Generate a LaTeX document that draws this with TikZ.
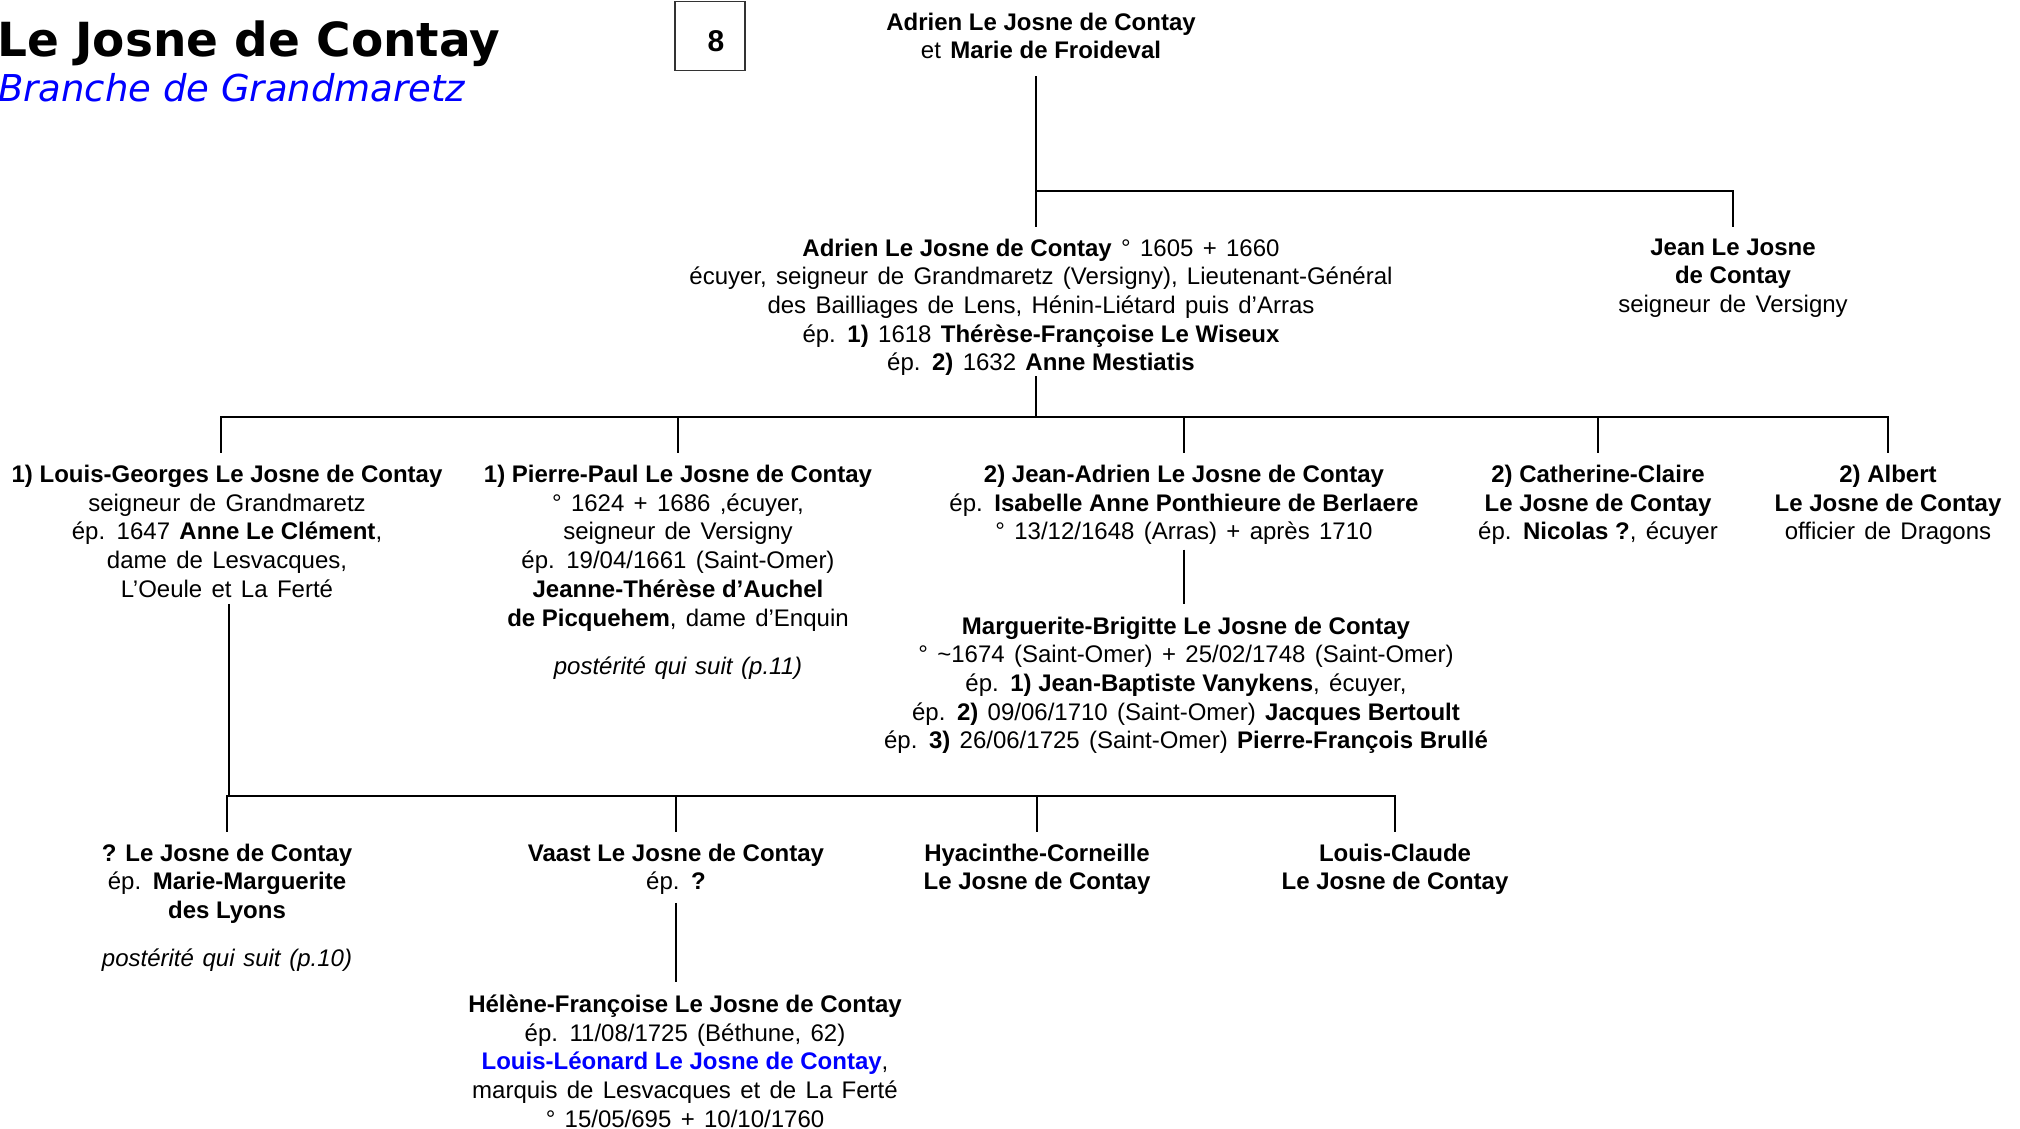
\documentclass[tikz,border=0pt]{standalone}
\usepackage{fontspec}
\setmainfont{Liberation Sans}[WordSpace=1.4, BoldFeatures={WordSpace=1}, ItalicFeatures={WordSpace=1.3}]
\newfontfamily\djv{DejaVu Sans}
\begin{document}
\begin{tikzpicture}[x=1pt,y=-1pt,
  person/.style={align=center, inner sep=0pt, anchor=north, font=\fontsize{24}{28.7}\selectfont},
  link/.style={line width=2.5pt, black},
]
\useasboundingbox (0,0) rectangle (2020,1129);

% title
\node[anchor=base west, inner sep=0pt, font=\djv\bfseries\fontsize{47}{50}\selectfont] (title) at (-3,57) {Le Josne de Contay};
\node[anchor=base west, inner sep=0pt, text=blue, font=\djv\itshape\fontsize{37}{40}\selectfont] (sub) at (-2,101.5) {Branche de Grandmaretz};
\node[draw=black!80, line width=1.3pt, minimum width=70pt, minimum height=69pt, inner sep=0pt] (pg) at (710,36) {};
\node[inner sep=0pt, font=\bfseries\fontsize{30}{32}\selectfont] (pgnum) at (716,40.7) {8};

% generation 0
\node[person] (top) at (1041,12.5) {\textbf{Adrien Le Josne de Contay}\\et \textbf{Marie de Froideval}};

% generation 1
\node[person] (adr) at (1041,238.5) {\textbf{Adrien Le Josne de Contay} ° 1605 + 1660\\
écuyer, seigneur de Grandmaretz (Versigny), Lieutenant-Général\\
des Bailliages de Lens, Hénin-Liétard puis d’Arras\\
ép. \textbf{1)} 1618 \textbf{Thérèse-Françoise Le Wiseux}\\
ép. \textbf{2)} 1632 \textbf{Anne Mestiatis}};
\node[person] (jean) at (1733,238.5) {\textbf{Jean Le Josne}\\\textbf{de Contay}\\seigneur de Versigny};

% generation 2
\node[person] (lg) at (227,465) {\textbf{1) Louis-Georges Le Josne de Contay}\\seigneur de Grandmaretz\\ép. 1647 \textbf{Anne Le Clément},\\dame de Lesvacques,\\L’Oeule et La Ferté};
\node[person] (pp) at (678,465) {\textbf{1) Pierre-Paul Le Josne de Contay}\\° 1624 + 1686 ,écuyer,\\seigneur de Versigny\\ép. 19/04/1661 (Saint-Omer)\\\textbf{Jeanne-Thérèse d’Auchel}\\\textbf{de Picquehem}, dame d’Enquin\\[20pt]\textit{postérité qui suit (p.11)}};
\node[person] (ja) at (1184,465) {\textbf{2) Jean-Adrien Le Josne de Contay}\\ép. \textbf{Isabelle Anne Ponthieure de Berlaere}\\° 13/12/1648 (Arras) + après 1710};
\node[person] (cc) at (1598,465) {\textbf{2) Catherine-Claire}\\\textbf{Le Josne de Contay}\\ép. \textbf{Nicolas ?}, écuyer};
\node[person] (alb) at (1888,465) {\textbf{2) Albert}\\\textbf{Le Josne de Contay}\\officier de Dragons};

\node[person] (mb) at (1186,616.5) {\textbf{Marguerite-Brigitte Le Josne de Contay}\\
° \textasciitilde1674 (Saint-Omer) + 25/02/1748 (Saint-Omer)\\
ép. \textbf{1) Jean-Baptiste Vanykens}, écuyer,\\
ép. \textbf{2)} 09/06/1710 (Saint-Omer) \textbf{Jacques Bertoult}\\
ép. \textbf{3)} 26/06/1725 (Saint-Omer) \textbf{Pierre-François Brullé}};

% generation 3
\node[person] (q) at (227,843.5) {\textbf{? Le Josne de Contay}\\ép. \textbf{Marie-Marguerite}\\\textbf{des Lyons}\\[19pt]\textit{postérité qui suit (p.10)}};
\node[person] (v) at (676,843.5) {\textbf{Vaast Le Josne de Contay}\\ép. \textbf{?}};
\node[person] (hc) at (1037,843.5) {\textbf{Hyacinthe-Corneille}\\\textbf{Le Josne de Contay}};
\node[person] (lc) at (1395,843.5) {\textbf{Louis-Claude}\\\textbf{Le Josne de Contay}};

\node[person] (hf) at (685,994.5) {\textbf{Hélène-Françoise Le Josne de Contay}\\
ép. 11/08/1725 (Béthune, 62)\\
\textcolor{blue}{\textbf{Louis-Léonard Le Josne de Contay}},\\
marquis de Lesvacques et de La Ferté\\
° 15/05/695 + 10/10/1760};

% connectors
\coordinate (b0) at (1036,191);
\coordinate (b1) at (1036,417);
\coordinate (b2) at (229,796);

\draw[link, shorten <=17pt] (top.south -| b0) -- (b0);
\draw[link, shorten >=11.5pt] (b0) -- (adr.north -| b0);
\draw[link, shorten >=11.5pt] (b0) -| (jean.north);

\draw[link] (adr.south -| b1) -- (b1);
\draw[link, shorten >=12pt] (b1) -| ([xshift=-6pt]lg.north);
\draw[link, shorten >=12pt] (b1) -| (pp.north);
\draw[link, shorten >=12pt] (b1) -| (ja.north);
\draw[link, shorten >=12pt] (b1) -| (cc.north);
\draw[link, shorten >=12pt] (b1) -| (alb.north);

\draw[link, shorten <=4.5pt, shorten >=12.5pt] (ja.south) -- (ja.south |- mb.north);

\draw[link, shorten <=6pt] (lg.south -| b2) -- (b2);
\draw[link, shorten >=11.5pt] (b2) -| (q.north);
\draw[link, shorten >=11.5pt] (b2) -| (v.north);
\draw[link, shorten >=11.5pt] (b2) -| (hc.north);
\draw[link, shorten >=11.5pt] (b2) -| (lc.north);

\draw[link, shorten <=8pt, shorten >=12.5pt] (v.south) -- (v.south |- hf.north);
\end{tikzpicture}
\end{document}
